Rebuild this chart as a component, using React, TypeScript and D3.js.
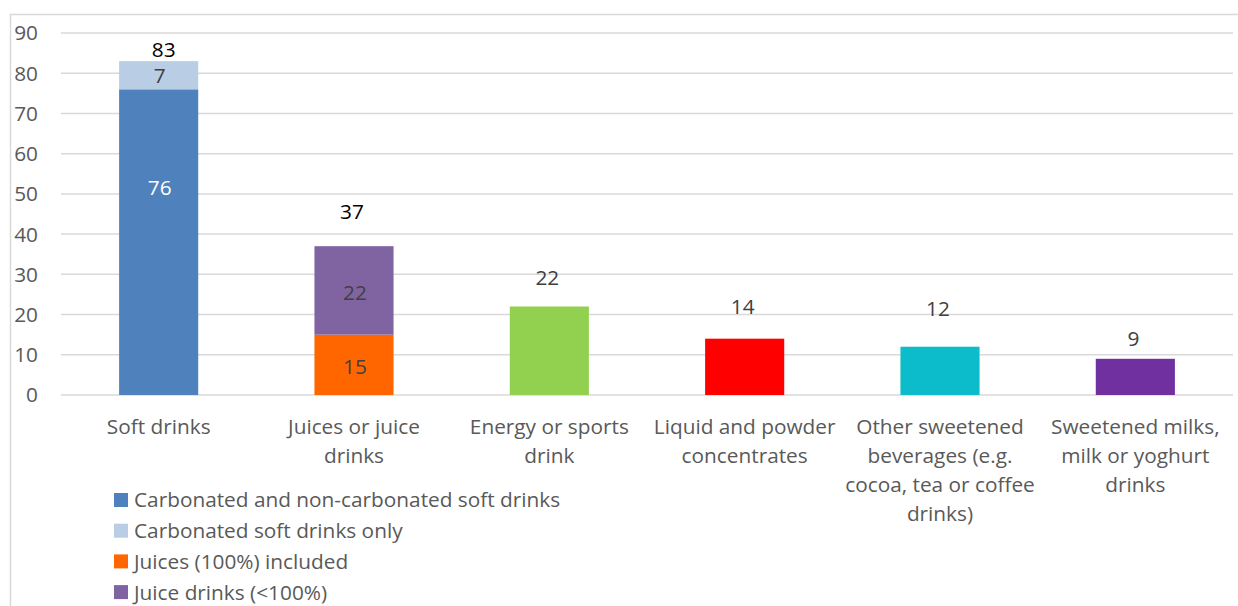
import React from "react";
import * as d3 from "d3";

const categories: string[][] = [
  ["Soft drinks"],
  ["Juices or juice", "drinks"],
  ["Energy or sports", "drink"],
  ["Liquid and powder", "concentrates"],
  ["Other sweetened", "beverages (e.g.", "cocoa, tea or coffee", "drinks)"],
  ["Sweetened milks,", "milk or yoghurt", "drinks"],
];

const segCategory = [0, 0, 1, 1, 2, 3, 4, 5];
const segValues = [76, 7, 15, 22, 22, 14, 12, 9];
const segColors = ["#4F81BD", "#B9CDE5", "#FF6600", "#8064A2", "#92D050", "#FF0000", "#0CBCCA", "#7030A0"];
const segShowLabel = [true, true, true, true, false, false, false, false];
const segLabelColors = ["#FFFFFF", "#404040", "#404040", "#404040", "", "", "", ""];
const segLabelAt = [51.5, 79.5, 7, 25.5, 0, 0, 0, 0];

const totals = [83, 37, 22, 14, 12, 9];
const totalLabelAt = [86, 45.5, 29.3, 22, 21.5, 14];
const totalLabelColors = ["#000000", "#000000", "#404040", "#404040", "#404040", "#404040"];

const legendLabels = [
  "Carbonated and non-carbonated soft drinks",
  "Carbonated soft drinks only",
  "Juices (100%) included",
  "Juice drinks (<100%)",
];
const legendColors = ["#4F81BD", "#B9CDE5", "#FF6600", "#8064A2"];

const yTicks = [0, 10, 20, 30, 40, 50, 60, 70, 80, 90];

const W = 1238;
const H = 606;
const FONT = "'Open Sans', sans-serif";
const FS = 20.8;

export default function App() {
  const x = d3
    .scaleBand<number>()
    .domain(d3.range(categories.length))
    .range([61, 1233])
    .paddingInner(0)
    .paddingOuter(0);
  const y = d3.scaleLinear().domain([0, 90]).range([395, 33]);
  const barW = x.bandwidth() * 0.405;

  const starts: number[] = [];
  const acc: Record<number, number> = {};
  segValues.forEach((v, i) => {
    const c = segCategory[i];
    starts.push(acc[c] || 0);
    acc[c] = (acc[c] || 0) + v;
  });

  const cx = (i: number) => (x(i) as number) + x.bandwidth() / 2;

  return (
    <svg
      width={W}
      height={H}
      style={{ position: "absolute", left: 0, top: 0, display: "block", background: "#fff" }}
      fontFamily={FONT}
    >
      <rect x={10.5} y={14.5} width={1400} height={800} fill="#fff" stroke="#D9D9D9" strokeWidth={1.5} />
      {yTicks.map((t) => (
        <g key={t}>
          <line x1={61} x2={1233} y1={y(t)} y2={y(t)} stroke="#D9D9D9" strokeWidth={1.5} />
          <text x={38} y={y(t)} dy="0.36em" textAnchor="end" fontSize={FS} fill="#595959">
            {t}
          </text>
        </g>
      ))}
      {segValues.map((v, i) => {
        const c = segCategory[i];
        const y0 = y(starts[i]);
        const y1 = y(starts[i] + v);
        return (
          <rect key={i} x={cx(c) - barW / 2} y={y1} width={barW} height={y0 - y1} fill={segColors[i]} />
        );
      })}
      {segValues.map((v, i) =>
        segShowLabel[i] ? (
          <text
            key={"sl" + i}
            x={cx(segCategory[i]) + 1}
            y={y(segLabelAt[i])}
            dy="0.36em"
            textAnchor="middle"
            fontSize={FS}
            fill={segLabelColors[i]}
          >
            {v}
          </text>
        ) : null
      )}
      {totals.map((t, i) => (
        <text
          key={"t" + i}
          x={cx(i) + (i === 0 ? 5 : -2)}
          y={y(totalLabelAt[i])}
          dy="0.36em"
          textAnchor="middle"
          fontSize={FS}
          fill={totalLabelColors[i]}
        >
          {t}
        </text>
      ))}
      {categories.map((lines, i) => (
        <text key={"c" + i} textAnchor="middle" fontSize={FS} fill="#595959">
          {lines.map((l, j) => (
            <tspan key={j} x={cx(i)} y={427 + j * 29} dy="0.36em">
              {l}
            </tspan>
          ))}
        </text>
      ))}
      {legendLabels.map((l, i) => (
        <g key={"l" + i}>
          <rect x={114} y={500 + i * 30.7 - 7} width={14} height={14} fill={legendColors[i]} />
          <text x={134} y={500 + i * 30.7} dy="0.36em" fontSize={FS} fill="#595959">
            {l}
          </text>
        </g>
      ))}
    </svg>
  );
}
